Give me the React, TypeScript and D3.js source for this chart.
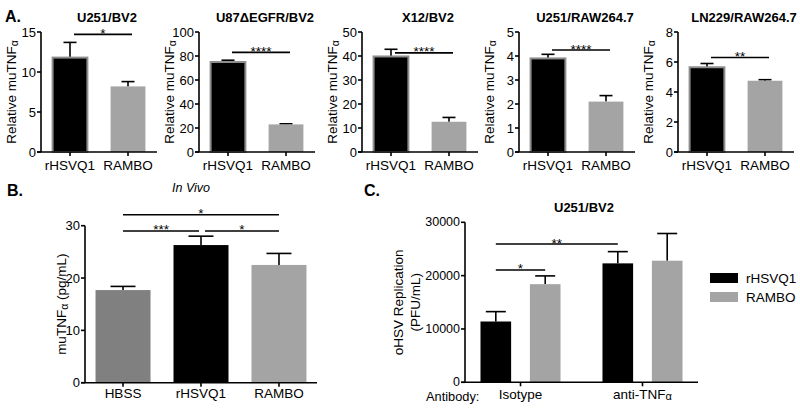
import React from "react";
import * as d3 from "d3";

// ---------- DATA ----------
const aTitles = ["U251/BV2", "U87\u0394EGFR/BV2", "X12/BV2", "U251/RAW264.7", "LN229/RAW264.7"];
const aGroups = ["rHSVQ1", "RAMBO"];
const aMeans = [
  [11.8, 8.2],
  [75, 23],
  [39.8, 12.6],
  [3.9, 2.1],
  [5.65, 4.75],
];
const aErrors = [
  [1.9, 0.6],
  [1.5, 0.5],
  [3.0, 1.8],
  [0.17, 0.25],
  [0.25, 0.07],
];
const aMax = [15, 100, 50, 5, 8];
const aTickStep = [5, 20, 10, 1, 2];
const aSigLabels = ["*", "****", "****", "****", "**"];
const aSigLevel = [14.7, 83, 41.3, 4.25, 6.3];

const bGroups = ["HBSS", "rHSVQ1", "RAMBO"];
const bMeans = [17.7, 26.3, 22.5];
const bErrors = [0.7, 1.7, 2.2];
const bTicks = [0, 10, 20, 30];
const bSig = [
  { from: 0, to: 2, level: 32.1, label: "*" },
  { from: 0, to: 1, level: 29.0, label: "***" },
  { from: 1, to: 2, level: 29.0, label: "*" },
];

const cGroups = ["Isotype", "anti-TNF"];
const cSeries = ["rHSVQ1", "RAMBO"];
const cMeans = [
  [11400, 22300],
  [18400, 22800],
];
const cErrors = [
  [1850, 2200],
  [1550, 5100],
];
const cTicks = [0, 10000, 20000, 30000];
const cSig = [
  { g1: 0, s1: 0, g2: 1, s2: 0, level: 25930, label: "**" },
  { g1: 0, s1: 0, g2: 0, s2: 1, level: 21060, label: "*" },
];

// ---------- LAYOUT / STYLE ----------
const FONT = "'Liberation Sans', Arial, Helvetica, sans-serif";
const BLACK = "#000";
const GREY_LIGHT = "#a4a4a4";
const GREY_MID = "#808080";
const BORDER = "#8e8e8e";
const TICK_FS = 13;
const LABEL_FS = 13.5;
const panelAX = [41, 199, 362, 519, 678];
const A_W = 116;
const A_TOP = 32;
const A_BOT = 152;

function ErrorBar({ x, y0, y1, cap }: { x: number; y0: number; y1: number; cap: number }) {
  return (
    <g stroke="#000" strokeWidth={1.6}>
      <line x1={x} x2={x} y1={y0} y2={y1} />
      <line x1={x - cap / 2} x2={x + cap / 2} y1={y1} y2={y1} />
    </g>
  );
}

function Sig({ x1, x2, y, label }: { x1: number; x2: number; y: number; label: string }) {
  return (
    <g>
      <line x1={x1} x2={x2} y1={y} y2={y} stroke="#000" strokeWidth={1.6} />
      <text x={(x1 + x2) / 2} y={y + 3.5} textAnchor="middle" fontSize={13.5} fontFamily={FONT}>
        {label}
      </text>
    </g>
  );
}

function PanelA({ i }: { i: number }) {
  const ax = panelAX[i];
  const y = d3.scaleLinear().domain([0, aMax[i]]).range([A_BOT, A_TOP]);
  const x = d3.scaleBand<string>().domain(aGroups).range([ax, ax + A_W]).paddingInner(0.4).paddingOuter(0.2);
  const ticks = d3.range(0, aMax[i] + aTickStep[i] / 2, aTickStep[i]);
  const bw = x.bandwidth();
  const cx = (g: string) => (x(g) as number) + bw / 2;
  return (
    <g fontFamily={FONT}>
      <text x={ax + 66} y={21.5} textAnchor="middle" fontWeight="bold" fontSize={13}>
        {aTitles[i]}
      </text>
      {aGroups.map((g, k) => {
        const m = aMeans[i][k];
        const e = aErrors[i][k];
        return (
          <g key={g}>
            <ErrorBar x={cx(g)} y0={y(m)} y1={y(m + e)} cap={13} />
            <rect
              x={x(g)}
              y={y(m)}
              width={bw}
              height={A_BOT - y(m)}
              fill={k === 0 ? BLACK : GREY_LIGHT}
              stroke={k === 0 ? BORDER : "none"}
              strokeWidth={2}
            />
          </g>
        );
      })}
      <line x1={ax} x2={ax} y1={A_TOP} y2={A_BOT} stroke="#000" strokeWidth={1.6} />
      {ticks.map((t) => (
        <g key={t}>
          <line x1={ax - 4} x2={ax} y1={y(t)} y2={y(t)} stroke="#000" strokeWidth={1.6} />
          <text x={ax - 5} y={y(t)} dy="0.35em" textAnchor="end" fontSize={TICK_FS}>
            {t}
          </text>
        </g>
      ))}
      <line x1={ax - 4} x2={ax + A_W} y1={A_BOT} y2={A_BOT} stroke="#000" strokeWidth={1.6} />
      {aGroups.map((g) => (
        <g key={g}>
          <line x1={cx(g)} x2={cx(g)} y1={A_BOT} y2={A_BOT + 4} stroke="#000" strokeWidth={1.6} />
          <text x={cx(g)} y={169.5} textAnchor="middle" fontSize={LABEL_FS}>
            {g}
          </text>
        </g>
      ))}
      <text transform={`translate(${ax - 25},${(A_TOP + A_BOT) / 2}) rotate(-90)`} textAnchor="middle" fontSize={LABEL_FS}>
        Relative muTNF<tspan fontSize={10.5} dy={2}>{"\u03b1"}</tspan>
      </text>
      <Sig x1={cx(aGroups[0]) + 4} x2={cx(aGroups[1]) + 4} y={y(aSigLevel[i])} label={aSigLabels[i]} />
    </g>
  );
}

function PanelB() {
  const ax = 85;
  const x1 = 317;
  const top = 225.7;
  const bot = 382.7;
  const y = d3.scaleLinear().domain([0, 30]).range([bot, top]);
  const x = d3.scaleBand<string>().domain(bGroups).range([ax, x1]).paddingInner(0.295).paddingOuter(0.135);
  const bw = x.bandwidth();
  const cx = (g: string) => (x(g) as number) + bw / 2;
  const colors = [GREY_MID, BLACK, GREY_LIGHT];
  return (
    <g fontFamily={FONT}>
      {bGroups.map((g, k) => (
        <g key={g}>
          <ErrorBar x={cx(g)} y0={y(bMeans[k])} y1={y(bMeans[k] + bErrors[k])} cap={25} />
          <rect x={x(g)} y={y(bMeans[k])} width={bw} height={bot - y(bMeans[k])} fill={colors[k]} />
        </g>
      ))}
      <line x1={ax} x2={ax} y1={top} y2={bot} stroke="#000" strokeWidth={1.6} />
      {bTicks.map((t) => (
        <g key={t}>
          <line x1={ax - 4} x2={ax} y1={y(t)} y2={y(t)} stroke="#000" strokeWidth={1.6} />
          <text x={ax - 5} y={y(t)} dy="0.35em" textAnchor="end" fontSize={TICK_FS}>
            {t}
          </text>
        </g>
      ))}
      <line x1={ax - 4} x2={x1} y1={bot} y2={bot} stroke="#000" strokeWidth={1.6} />
      {bGroups.map((g) => (
        <g key={g}>
          <line x1={cx(g)} x2={cx(g)} y1={bot} y2={bot + 4} stroke="#000" strokeWidth={1.6} />
          <text x={cx(g)} y={398} textAnchor="middle" fontSize={LABEL_FS}>
            {g}
          </text>
        </g>
      ))}
      <text transform={`translate(${ax - 19},${(top + bot) / 2}) rotate(-90)`} textAnchor="middle" fontSize={LABEL_FS}>
        muTNF<tspan fontSize={10.5} dy={2}>{"\u03b1"}</tspan>
        <tspan dy={-2}> (pg/mL)</tspan>
      </text>
      {bSig.map((s, k) => {
        const a = cx(bGroups[s.from]);
        const b = cx(bGroups[s.to]);
        const shortA = s.from === 1 ? 4 : 0;
        const shortB = s.to === 1 ? -2 : 0;
        return <Sig key={k} x1={a + shortA} x2={b + shortB} y={y(s.level)} label={s.label} />;
      })}
      <text x={172} y={192} fontStyle="italic" fontSize={12.5} fontFamily={FONT}>
        In Vivo
      </text>
    </g>
  );
}

function PanelC() {
  const ax = 465;
  const x1 = 698;
  const top = 222.3;
  const bot = 382.3;
  const y = d3.scaleLinear().domain([0, 30000]).range([bot, top]);
  const x0 = d3.scaleBand<string>().domain(cGroups).range([ax, x1]).paddingInner(0.344).paddingOuter(0.127);
  const xs = d3.scaleBand<string>().domain(cSeries).range([0, x0.bandwidth()]).paddingInner(0.38);
  const bw = xs.bandwidth();
  const cx = (g: number, s: number) => (x0(cGroups[g]) as number) + (xs(cSeries[s]) as number) + bw / 2;
  const colors = [BLACK, GREY_LIGHT];
  const fmt = d3.format("d");
  return (
    <g fontFamily={FONT}>
      <text x={584} y={212} textAnchor="middle" fontWeight="bold" fontSize={13}>
        U251/BV2
      </text>
      {cSeries.map((s, si) =>
        cGroups.map((g, gi) => {
          const m = cMeans[si][gi];
          const e = cErrors[si][gi];
          const xl = cx(gi, si) - bw / 2;
          return (
            <g key={s + g}>
              <ErrorBar x={cx(gi, si)} y0={y(m)} y1={y(m + e)} cap={20} />
              <rect x={xl} y={y(m)} width={bw} height={bot - y(m)} fill={colors[si]} />
            </g>
          );
        })
      )}
      <line x1={ax} x2={ax} y1={top} y2={bot} stroke="#000" strokeWidth={1.6} />
      {cTicks.map((t) => (
        <g key={t}>
          <line x1={ax - 4} x2={ax} y1={y(t)} y2={y(t)} stroke="#000" strokeWidth={1.6} />
          <text x={ax - 5} y={y(t)} dy="0.33em" textAnchor="end" fontSize={TICK_FS - 0.5}>
            {fmt(t)}
          </text>
        </g>
      ))}
      <line x1={ax - 4} x2={x1} y1={bot} y2={bot} stroke="#000" strokeWidth={1.6} />
      {cGroups.map((g, gi) => {
        const c = (x0(g) as number) + x0.bandwidth() / 2;
        return (
          <g key={g}>
            <line x1={c} x2={c} y1={bot} y2={bot + 4} stroke="#000" strokeWidth={1.6} />
            <text x={c} y={399} textAnchor="middle" fontSize={LABEL_FS}>
              {g}
              {gi === 1 ? <tspan fontSize={11} dy={1}>{"\u03b1"}</tspan> : null}
            </text>
          </g>
        );
      })}
      <text x={426} y={400.5} fontSize={12.8}>
        Antibody:
      </text>
      <text transform={`translate(403,${(top + bot) / 2}) rotate(-90)`} textAnchor="middle" fontSize={LABEL_FS}>
        oHSV  Replication
      </text>
      <text transform={`translate(420,${(top + bot) / 2}) rotate(-90)`} textAnchor="middle" fontSize={LABEL_FS}>
        (PFU/mL)
      </text>
      {cSig.map((s, k) => (
        <Sig key={k} x1={cx(s.g1, s.s1)} x2={cx(s.g2, s.s2)} y={y(s.level)} label={s.label} />
      ))}
      {cSeries.map((s, si) => (
        <g key={s}>
          <rect x={710} y={273 + si * 19} width={28} height={10} fill={colors[si]} />
          <text x={746} y={283 + si * 19} fontSize={LABEL_FS}>
            {s}
          </text>
        </g>
      ))}
    </g>
  );
}

export default function App() {
  return (
    <svg
      width={800}
      height={408}
      style={{ position: "absolute", left: 0, top: 0, background: "#fff" }}
      fontFamily={FONT}
    >
      <rect width={800} height={408} fill="#fff" />
      <text x={5} y={22} fontWeight="bold" fontSize={16}>A.</text>
      <text x={7} y={196} fontWeight="bold" fontSize={16}>B.</text>
      <text x={364} y={196} fontWeight="bold" fontSize={16}>C.</text>
      {aTitles.map((_, i) => (
        <PanelA key={i} i={i} />
      ))}
      <PanelB />
      <PanelC />
    </svg>
  );
}
